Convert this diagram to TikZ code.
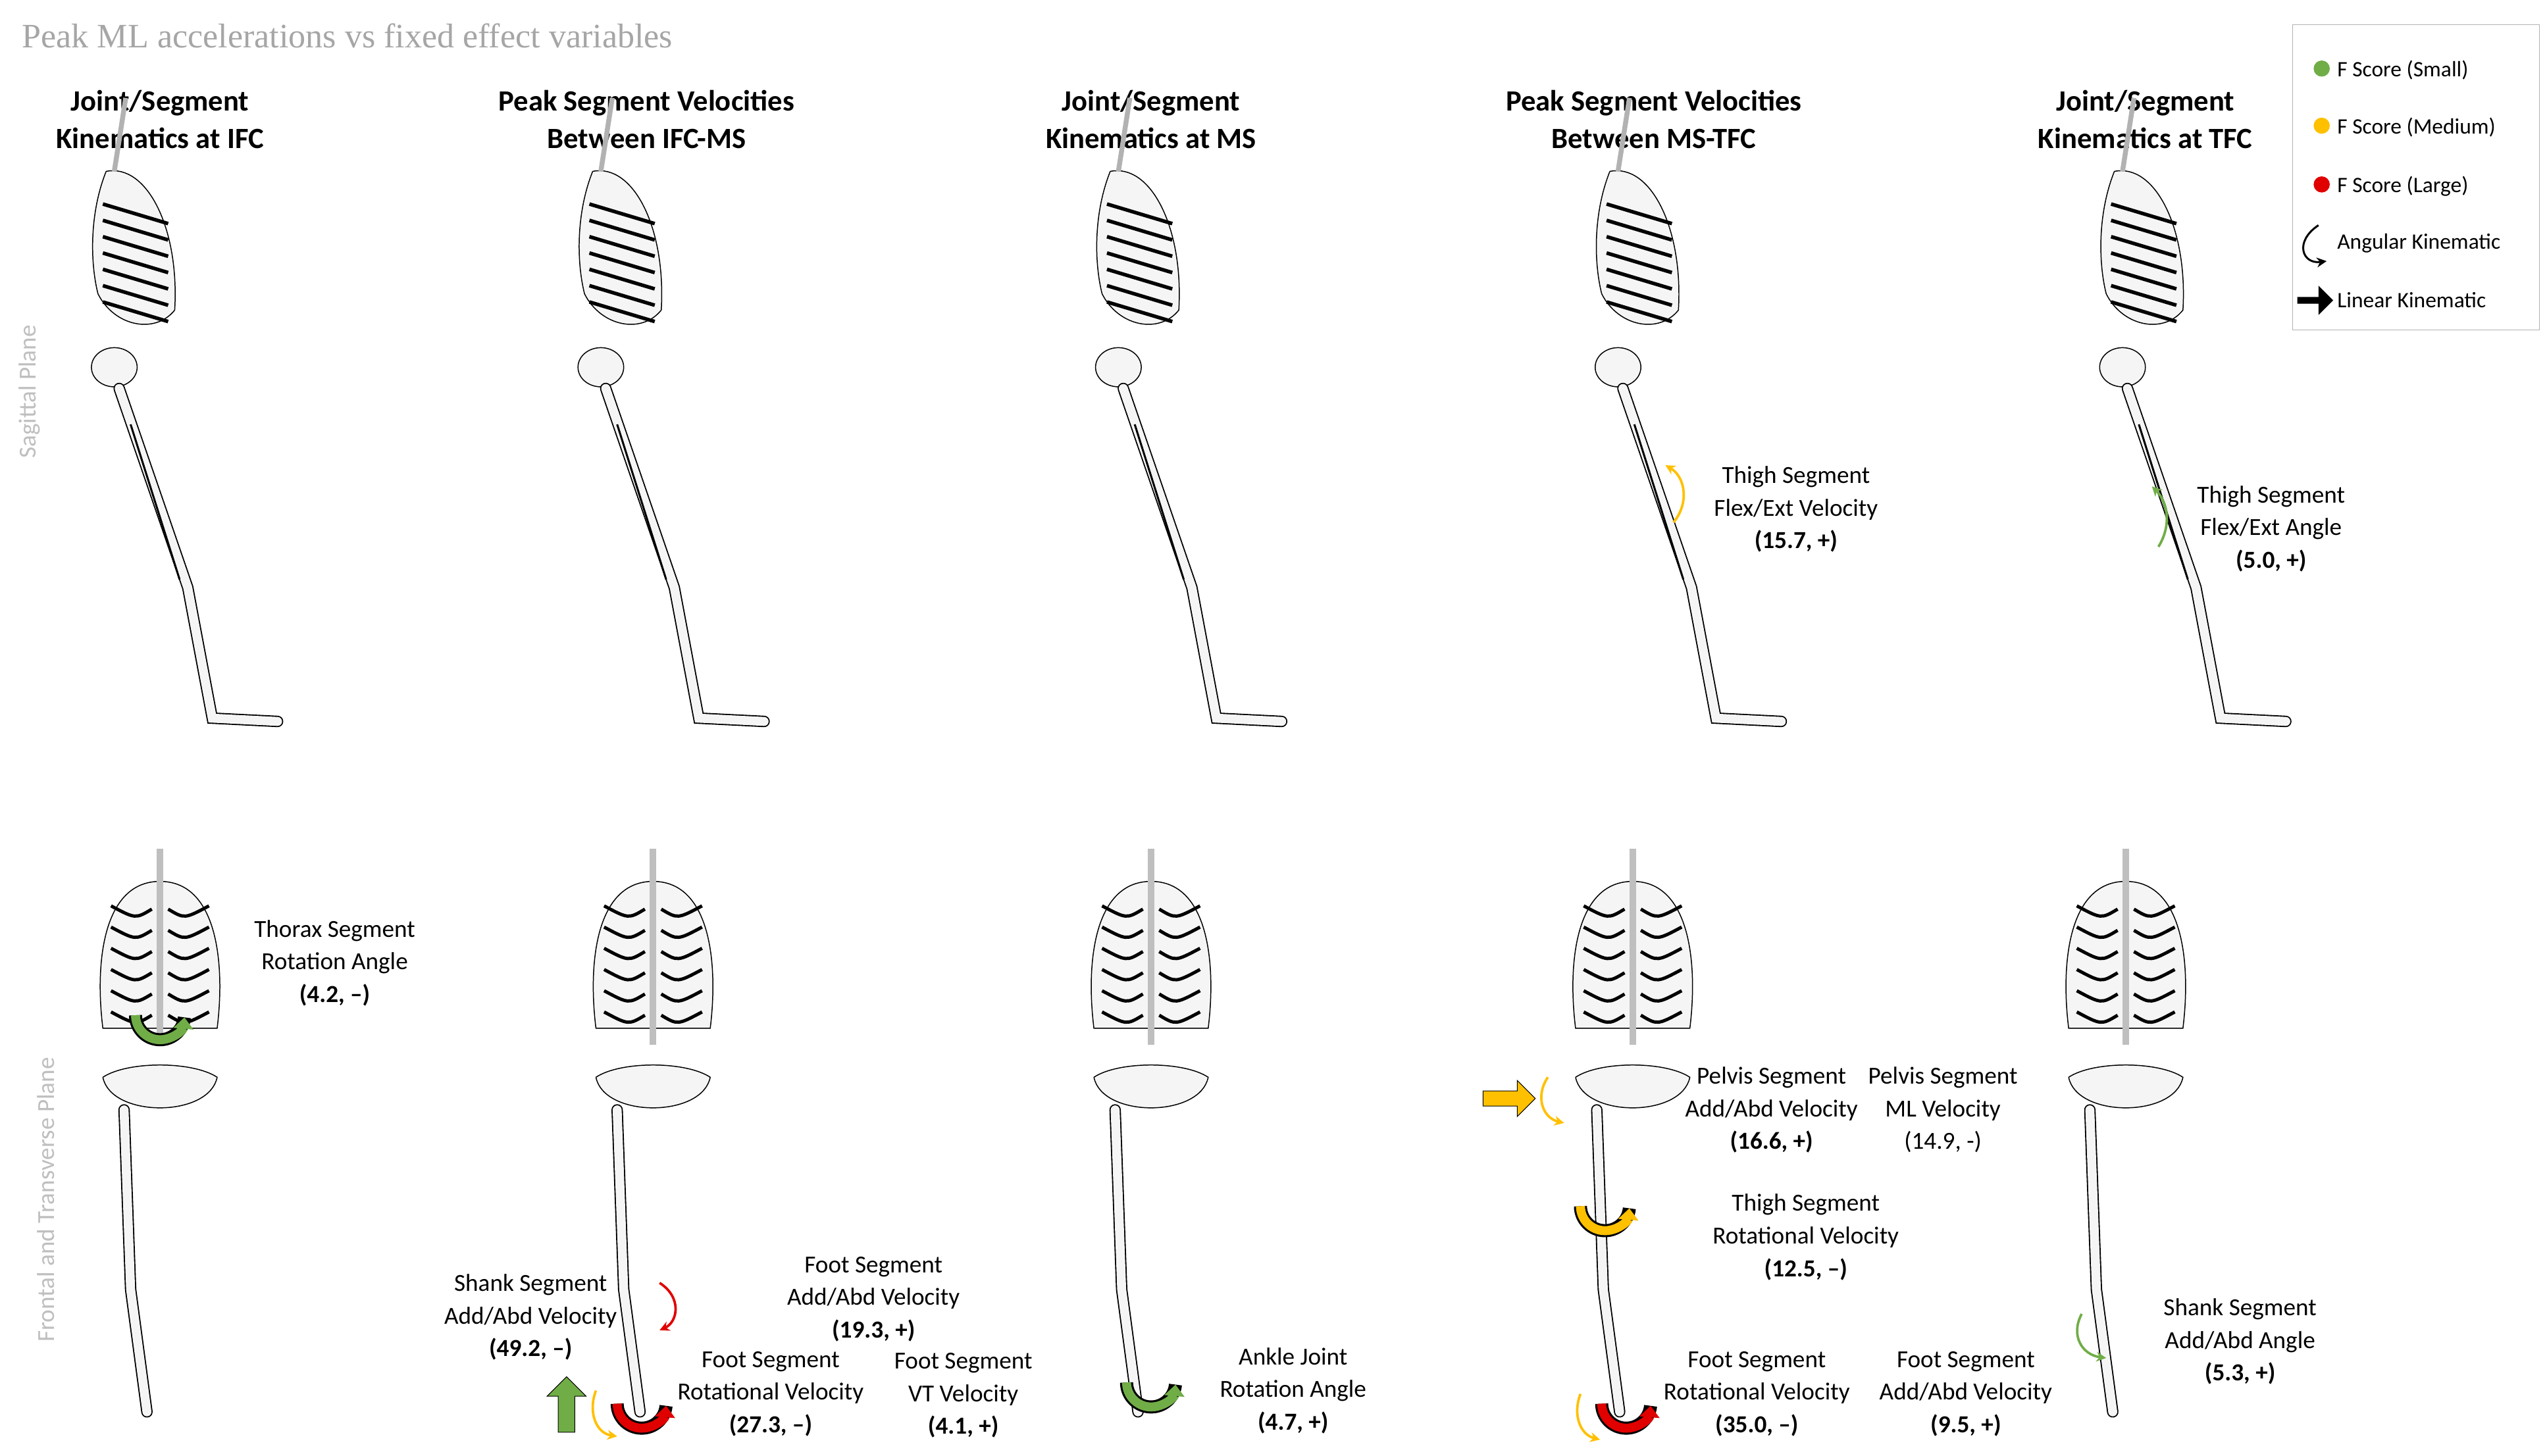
\documentclass[tikz,border=0pt]{standalone}
\usepackage{fontspec}
\setmainfont{Carlito}
\newfontfamily\titlefont{Liberation Serif}
\usetikzlibrary{arrows.meta,shapes.arrows}
\definecolor{gS}{HTML}{70AD47}
\definecolor{yM}{HTML}{FFC000}
\definecolor{rL}{HTML}{E00000}
\begin{document}
\begin{tikzpicture}[x=1pt,y=-1pt,
 lab/.style={align=center,font=\fontsize{15}{20}\selectfont},
 head/.style={align=center,font=\fontsize{18}{23}\selectfont\bfseries},
 leg/.style={anchor=west,font=\fontsize{13.5}{16}\selectfont},
 bone/.style={fill=gray!8,draw=black,line width=0.6},
 bonel/.style={draw=black,line width=7,line cap=round},
 bonei/.style={draw=gray!8,line width=5.5,line cap=round},
 carr/.style={-{Stealth[length=6pt,width=6pt]},line width=1.5},
 sag/.pic={
  \path[bone] (-20,-55) .. controls (5,-60) and (25,-20) .. (22,30) .. controls (10,45) and (-15,40) .. (-25,20) .. controls (-30,0) and (-30,-30) .. (-20,-55);
  \foreach \k in {-35,-25,...,25}{\draw[line width=2.2] (-22,\k) -- (18,\k+12);}
  \draw[line width=3,gray!60] (-8,-100) -- (-15,-55);
  \path[bone] (-15,65) ellipse (14 and 12);
  \draw[bonel] (-12,78) -- (30,200) -- (45,280) -- (85,282);
  \draw[bonei] (-12,78) -- (30,200) -- (45,280) -- (85,282);
  \draw[line width=1.2] (-5,100) -- (25,195);
 },
 fro/.pic={
  \path[bone] (0,-40) .. controls (35,-40) and (40,10) .. (35,50) -- (-35,50) .. controls (-40,10) and (-35,-40) .. (0,-40);
  \foreach \k in {-25,-12,...,45}{\draw[line width=2] (-30,\k) .. controls (-15,\k+8) .. (-5,\k+2); \draw[line width=2] (30,\k) .. controls (15,\k+8) .. (5,\k+2);}
  \draw[line width=4,gray!50] (0,-60) -- (0,60);
  \path[bone] (-35,80) .. controls (-20,70) and (20,70) .. (35,80) .. controls (30,105) and (-30,105) .. (-35,80);
  \draw[bonel] (-22,100) -- (-18,210) -- (-8,285);
  \draw[bonei] (-22,100) -- (-18,210) -- (-8,285);
 }]
\useasboundingbox[fill=white] (0,0) rectangle (1560,891.7);
\node[anchor=west,font=\titlefont\fontsize{21}{24}\selectfont,text=gray!70] (title) at (10,22) {Peak ML accelerations vs fixed effect variables};
\node[head] (h1) at (98,73) {Joint/Segment\\Kinematics at IFC};
\node[head] (h2) at (396,73) {Peak Segment Velocities\\Between IFC-MS};
\node[head] (h3) at (705,73) {Joint/Segment\\Kinematics at MS};
\node[head] (h4) at (1013,73) {Peak Segment Velocities\\Between MS-TFC};
\node[head] (h5) at (1314,73) {Joint/Segment\\Kinematics at TFC};
\node[rotate=90,font=\fontsize{15}{18}\selectfont,text=gray!50] (sp) at (18,240) {Sagittal Plane};
\node[rotate=90,font=\fontsize{15}{18}\selectfont,text=gray!50] (fp) at (28,735) {Frontal and Transverse Plane};
% skeletons
\foreach \x in {85,383,700,1006,1315}{\pic at (\x,160) {sag};}
\foreach \x in {98,400,705,1000,1302}{\pic at (\x,580) {fro};}
% legend
\node[draw=gray!60,minimum width=151,minimum height=187,anchor=north west] (legbox) at (1404,15) {};
\node[circle,fill=gS,inner sep=3.5pt] (d1) at (1422,42) {};
\node[leg] (l1) at (1428,43) {F Score (Small)};
\node[circle,fill=yM,inner sep=3.5pt] (d2) at (1422,77) {};
\node[leg] (l2) at (1428,78) {F Score (Medium)};
\node[circle,fill=rL,inner sep=3.5pt] (d3) at (1422,113) {};
\node[leg] (l3) at (1428,114) {F Score (Large)};
\coordinate (a1) at (1420,138);
\draw[carr,line width=1.2] (a1) .. controls (1405,148) and (1410,162) .. (1425,160);
\node[leg] (l4) at (1428,149) {Angular Kinematic};
\node[single arrow,fill=black,minimum height=22,minimum width=18,single arrow head extend=4,inner sep=1] (la) at (1417,184) {};
\node[leg] (l5) at (1428,184) {Linear Kinematic};
% labels
\node[lab] (t1) at (205,590) {Thorax Segment\\Rotation Angle\\\textbf{(4.2, --)}};
\node[lab] (t2) at (325,807) {Shank Segment\\Add/Abd Velocity\\\textbf{(49.2, --)}};
\node[lab] (t3) at (535,796) {Foot Segment\\Add/Abd Velocity\\\textbf{(19.3, +)}};
\node[lab] (t4) at (472,854) {Foot Segment\\Rotational Velocity\\\textbf{(27.3, --)}};
\node[lab] (t5) at (590,855) {Foot Segment\\VT Velocity\\\textbf{(4.1, +)}};
\node[lab] (t6) at (792,852) {Ankle Joint\\Rotation Angle\\\textbf{(4.7, +)}};
\node[lab] (t7) at (1100,312) {Thigh Segment\\Flex/Ext Velocity\\\textbf{(15.7, +)}};
\node[lab] (t8) at (1085,680) {Pelvis Segment\\Add/Abd Velocity\\\textbf{(16.6, +)}};
\node[lab] (t9) at (1190,680) {Pelvis Segment\\ML Velocity\\(14.9, -)};
\node[lab] (t10) at (1106,758) {Thigh Segment\\Rotational Velocity\\\textbf{(12.5, --)}};
\node[lab] (t11) at (1076,854) {Foot Segment\\Rotational Velocity\\\textbf{(35.0, --)}};
\node[lab] (t12) at (1204,854) {Foot Segment\\Add/Abd Velocity\\\textbf{(9.5, +)}};
\node[lab] (t13) at (1391,324) {Thigh Segment\\Flex/Ext Angle\\\textbf{(5.0, +)}};
\node[lab] (t14) at (1372,822) {Shank Segment\\Add/Abd Angle\\\textbf{(5.3, +)}};
% angular arrows
\coordinate (c1) at (1025,320);
\draw[carr,yM] (c1) .. controls (1035,308) and (1032,292) .. (1020,285);
\coordinate (c2) at (1322,335);
\draw[carr,gS] (c2) .. controls (1330,322) and (1328,308) .. (1318,298);
\coordinate (c3) at (404,815);
\draw[carr,rL] (404,786) .. controls (418,795) and (415,810) .. (c3);
\coordinate (c4) at (1275,805);
\draw[carr,gS] (c4) .. controls (1268,818) and (1275,830) .. (1290,832);
\coordinate (c5) at (948,660);
\draw[carr,yM] (c5) .. controls (940,672) and (945,685) .. (958,688);
\coordinate (c6) at (365,852);
\draw[carr,yM] (c6) .. controls (360,865) and (365,878) .. (378,880);
\coordinate (c7) at (968,854);
\draw[carr,yM] (c7) .. controls (963,867) and (968,879) .. (980,882);
% U arrows (bowl shape)
\foreach \cx/\cy/\col in {98/628/gS,393/866/rL,705/853/gS,983/745/yM,996/866/rL}{
 \draw[line width=8,black] (\cx-15,\cy-6) arc (180:5:15);
 \draw[line width=5.5,\col,-{Triangle[length=7pt,width=12pt]}] (\cx-15,\cy-6) arc (180:5:15);
}
% block arrows
\node[single arrow,fill=gS,draw=black,rotate=90,minimum height=34,minimum width=24,single arrow head extend=3,inner sep=2] (b1) at (347,863) {};
\node[single arrow,fill=yM,draw=black,minimum height=32,minimum width=22,single arrow head extend=3,inner sep=2] (b2) at (922,673) {};
\end{tikzpicture}
\end{document}
